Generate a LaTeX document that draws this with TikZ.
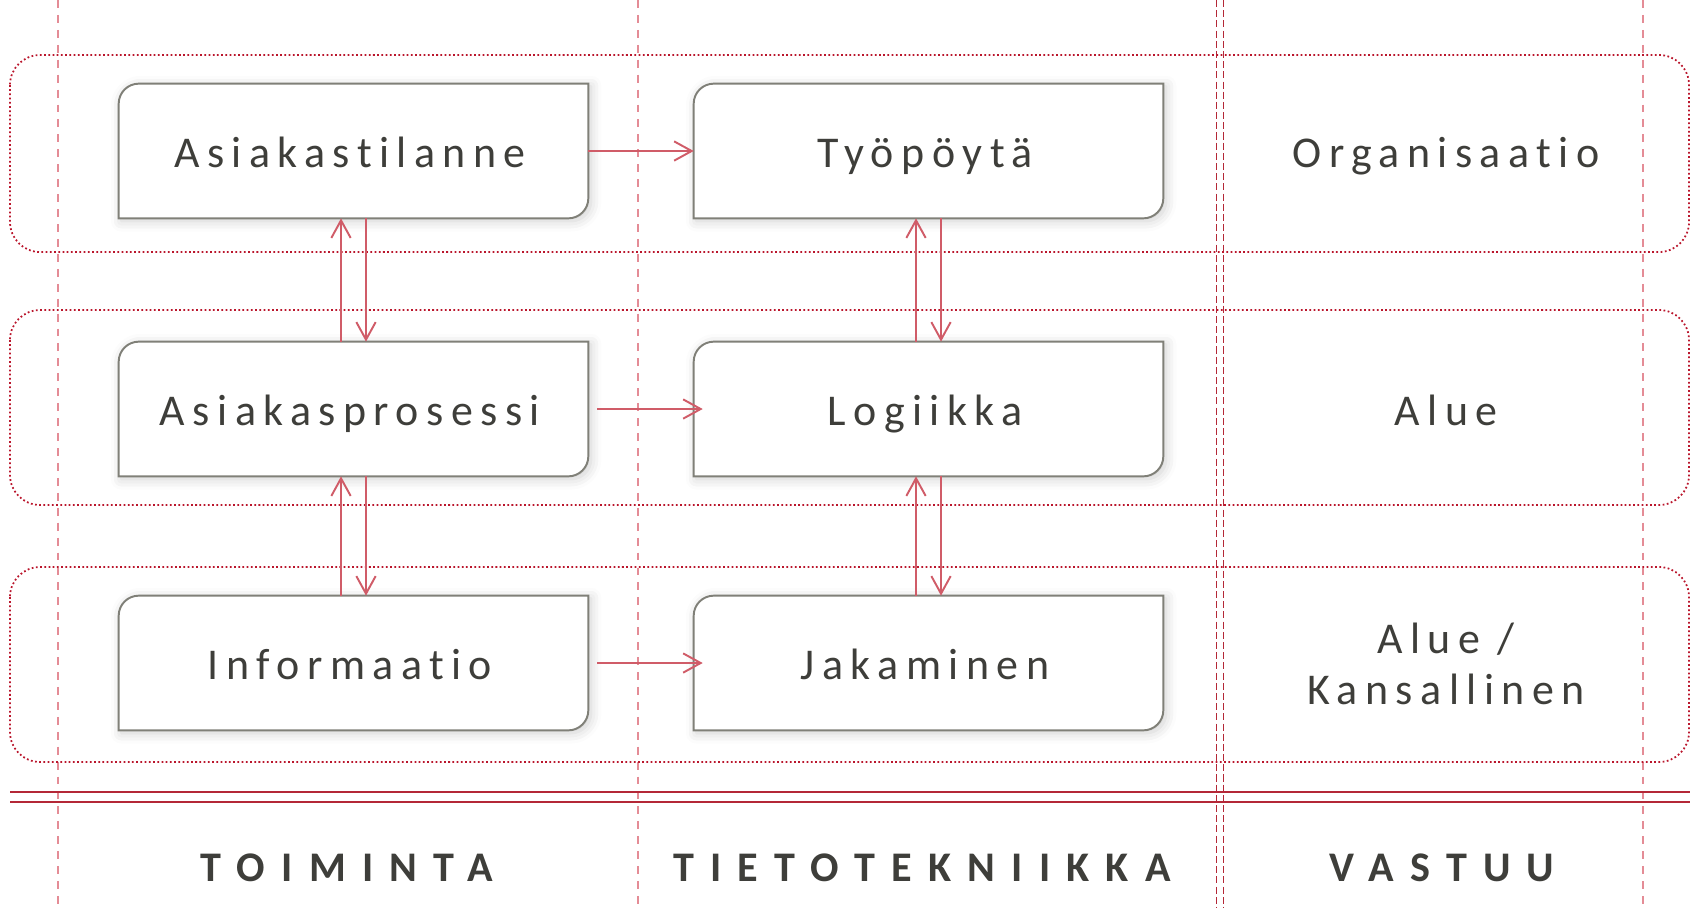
\documentclass[tikz,border=0pt]{standalone}
\usepackage{fontspec}
\setmainfont{Carlito}[Ligatures=NoCommon]
\usetikzlibrary{arrows.meta,shadows.blur}

\definecolor{txtgray}{RGB}{62,62,58}
\definecolor{framegray}{RGB}{128,128,120}
\definecolor{arrowred}{RGB}{208,92,104}
\definecolor{bandred}{RGB}{186,22,44}
\definecolor{gridred}{RGB}{228,140,150}
\definecolor{splitred}{RGB}{180,40,55}

\pgfdeclarelayer{background}
\pgfsetlayers{background,main}

\tikzstyle{proc}=[minimum width=9.38cm,minimum height=2.68cm,inner sep=0pt,text height=0.84cm,text depth=0.2cm,text=txtgray,font=\fontsize{25}{29}\selectfont\addfontfeatures{LetterSpace=17}]
\tikzstyle{level}=[inner sep=0pt,text=txtgray,align=center,font=\fontsize{25}{29}\selectfont\addfontfeatures{LetterSpace=17}]
\tikzstyle{head}=[inner sep=0pt,text=txtgray,font=\fontsize{24}{28}\selectfont\bfseries\addfontfeatures{LetterSpace=38.5}]
\tikzstyle{frame}=[draw=framegray,line width=1.1pt,fill=white,blur shadow={shadow xshift=1.5pt,shadow yshift=-1.5pt,shadow blur radius=6pt,shadow opacity=20}]
\tikzstyle{band}=[draw=bandred,line width=1pt,dash pattern=on 1pt off 1.4pt,rounded corners=0.6cm]
\tikzstyle{grid}=[draw=gridred,line width=1.1pt,dash pattern=on 4.5pt off 4pt]
\tikzstyle{split}=[draw=splitred,line width=1.1pt,dash pattern=on 4pt off 1.8pt]
\tikzstyle{flow}=[draw=arrowred,line width=1.1pt,-{Straight Barb[length=10pt,width=11pt]}]

\begin{document}
\begin{tikzpicture}[x=0.02cm,y=-0.02cm]
  \useasboundingbox (0,0) rectangle (1696,907);

  \node (asit)[proc] at (353.5,151) {\hspace*{-4pt}Asiakastilanne};
  \node (tyop)[proc] at (928.5,151) {\hspace*{-4pt}Työpöytä};
  \node (asip)[proc] at (353.5,409) {\hspace*{-4pt}Asiakasprosessi};
  \node (logi)[proc] at (928.5,409) {\hspace*{-4pt}Logiikka};
  \node (info)[proc] at (353.5,663) {\hspace*{-4pt}Informaatio};
  \node (jaka)[proc] at (928.5,663) {\hspace*{-4pt}Jakaminen};

  \node (org)[level,text height=0.84cm,text depth=0.2cm] at (1446,151) {Organisaatio};
  \node (alue)[level,text height=0.84cm,text depth=0.2cm] at (1446,409) {Alue};
  \node (kans)[level] at (1446,664) {Alue /\\Kansallinen};

  \node (toim)[head] at (347,868) {TOIMINTA};
  \node (tiet)[head] at (922,868) {TIETOTEKNIIKKA};
  \node (vast)[head] at (1442,868) {VASTUU};

  \begin{pgfonlayer}{background}
    \foreach \x in {58,638,1643}{
      \draw[grid] (\x,0) -- (\x,907);
    }
    \draw[split] (1216.5,0) -- (1216.5,907);
    \draw[split] (1223.5,0) -- (1223.5,907);

    \draw[band] (10,55) rectangle (1689,252);
    \draw[band] (10,310) rectangle (1689,505);
    \draw[band] (10,567) rectangle (1689,762);

    \draw[splitred,line width=1.1pt] (10,792) -- (1690,792);
    \draw[splitred,line width=1.1pt] (10,802) -- (1690,802);

    \foreach \n in {asit,tyop,asip,logi,info,jaka}{
      \draw[frame] ([yshift=-0.4cm]\n.north west) arc[start angle=180,end angle=90,radius=0.4cm]
        -- (\n.north east) -- ([yshift=0.4cm]\n.south east) arc[start angle=0,end angle=-90,radius=0.4cm]
        -- (\n.south west) -- cycle;
    }
  \end{pgfonlayer}

  \draw[flow] (asit) -- (tyop);
  \draw[flow] ([xshift=0.18cm]asip.east) -- ([xshift=0.18cm]logi.west);
  \draw[flow] ([xshift=0.18cm]info.east) -- ([xshift=0.18cm]jaka.west);

  \foreach \a/\b in {asip/asit,info/asip,logi/tyop,jaka/logi}{
    \draw[flow] ([xshift=-0.25cm]\a.north) -- ([xshift=-0.25cm]\b.south);
    \draw[flow] ([xshift=0.25cm]\b.south) -- ([xshift=0.25cm]\a.north);
  }
\end{tikzpicture}
\end{document}
